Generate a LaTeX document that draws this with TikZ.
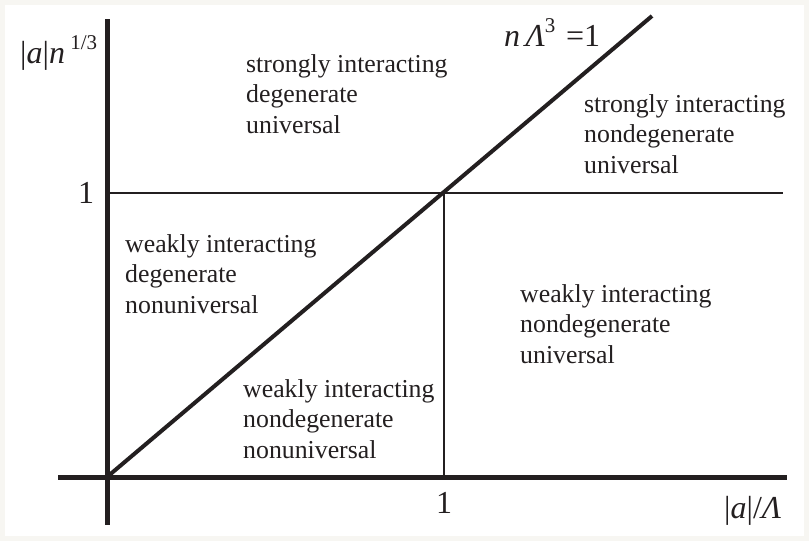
\documentclass[tikz,border=0pt]{standalone}
\usepackage{fontspec}
\setmainfont{Liberation Serif}
\definecolor{ink}{HTML}{231F20}
\definecolor{framecol}{HTML}{F7F6F2}
\newcommand\mysup[1]{\raisebox{0.42em}{\fontsize{21}{21}\selectfont #1}}
\begin{document}
\begin{tikzpicture}[x=1pt,y=-1pt,
  axisline/.style={line width=5pt, draw=ink},
  thinline/.style={line width=1.5pt, draw=ink},
  diagline/.style={line width=4pt, draw=ink},
  region/.style={anchor=base west, inner sep=0pt, align=left, text=ink,
    font=\fontsize{25.8}{30.5}\selectfont},
  axlab/.style={inner sep=0pt, text=ink, font=\fontsize{32}{36}\selectfont}]
\fill[framecol] (0,0) rectangle (809,541);
\fill[white] (5,5) rectangle (804,536);
\useasboundingbox (0,0) rectangle (809,541);
% coordinates
\coordinate (O) at (107,477);
\coordinate (ytop) at (107,19);
\coordinate (ybot) at (107,525);
\coordinate (xl) at (58,477);
\coordinate (xr) at (787,477);
\coordinate (D) at (652,16);
\coordinate (Y1) at (107,193);
\coordinate (Y1r) at (783,193);
\coordinate (X1) at (444,477);
\coordinate (C) at (444,193);
% lines
\draw[thinline] (Y1) -- (Y1r);
\draw[thinline] (C) -- (X1);
\draw[diagline] (O) -- (D);
\draw[axisline] (ytop) -- (ybot);
\draw[axisline] (xl) -- (xr);
% axis labels
\node[axlab, anchor=base west] (ylab) at (20,63) {|\textit{a}|\textit{n}\,\mysup{1/3}};
\node[axlab, anchor=base] (yone) at (86,203) {1};
\node[axlab, anchor=base] (xone) at (444,513) {1};
\node[axlab, anchor=base west] (xlab) at (724,518) {|\textit{a}|/\textit{Λ}};
\node[axlab, anchor=base west] (curve) at (504,46) {\textit{n}\,\textit{Λ}\mysup{3}\,\,=1};
% regions (anchor = baseline of last line)
\node[region] (r1) at (246,133) {strongly interacting\\degenerate\\universal};
\node[region] (r2) at (584,173) {strongly interacting\\nondegenerate\\universal};
\node[region] (r3) at (125,313) {weakly interacting\\degenerate\\nonuniversal};
\node[region] (r4) at (520,363) {weakly interacting\\nondegenerate\\universal};
\node[region] (r5) at (243,458) {weakly interacting\\nondegenerate\\nonuniversal};
\end{tikzpicture}
\end{document}
